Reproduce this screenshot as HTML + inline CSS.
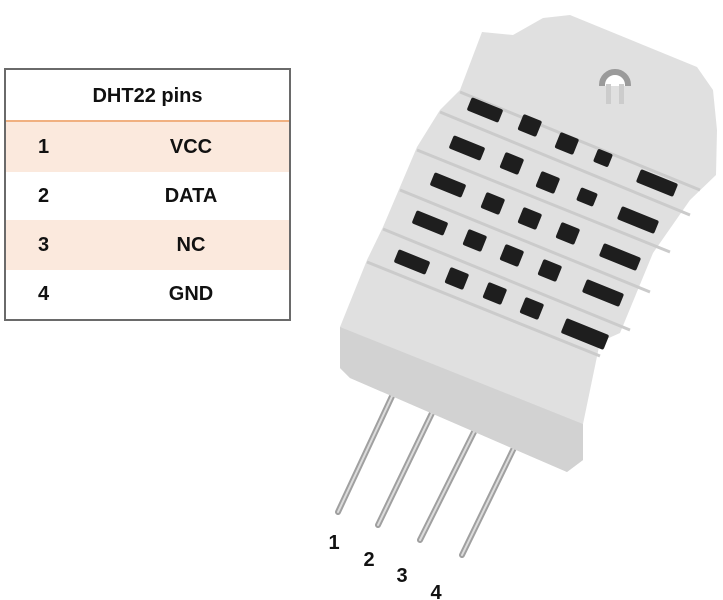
<!DOCTYPE html>
<html><head><meta charset="utf-8"><style>
body{margin:0;width:723px;height:600px;background:#fff;position:relative;overflow:hidden;font-family:"Liberation Sans",sans-serif}
.t{position:absolute;left:4px;top:68px;width:283px;height:249px;border:2px solid #6a6a6a;box-sizing:content-box}
.r{position:absolute;left:0;width:283px;font-weight:bold;font-size:20px;color:#111}
.n{position:absolute;left:32px}
.v{position:absolute;left:120px;width:130px;text-align:center}
</style></head><body>
<div class="t">
<div class="r" style="top:0;height:52px;line-height:52px;text-align:center;border-bottom:2px solid #f0b080;box-sizing:border-box">DHT22 pins</div>
<div class="r" style="top:52px;height:50px;line-height:50px;background:#fbe9dd"><span class="n">1</span><span class="v">VCC</span></div>
<div class="r" style="top:102px;height:48px;line-height:48px"><span class="n">2</span><span class="v">DATA</span></div>
<div class="r" style="top:150px;height:50px;line-height:50px;background:#fbe9dd"><span class="n">3</span><span class="v">NC</span></div>
<div class="r" style="top:200px;height:49px;line-height:49px"><span class="n">4</span><span class="v">GND</span></div>
</div>
<svg width="723" height="600" style="position:absolute;left:0;top:0">
<g stroke-linecap="round">
<line x1="408" y1="362" x2="338" y2="512" stroke="#a0a0a0" stroke-width="6"/>
<line x1="448" y1="380" x2="378" y2="525" stroke="#a0a0a0" stroke-width="6"/>
<line x1="490" y1="400" x2="420" y2="540" stroke="#a0a0a0" stroke-width="6"/>
<line x1="530" y1="415" x2="462" y2="555" stroke="#a0a0a0" stroke-width="6"/>
<line x1="408" y1="362" x2="338" y2="512" stroke="#dcdcdc" stroke-width="2"/>
<line x1="448" y1="380" x2="378" y2="525" stroke="#dcdcdc" stroke-width="2"/>
<line x1="490" y1="400" x2="420" y2="540" stroke="#dcdcdc" stroke-width="2"/>
<line x1="530" y1="415" x2="462" y2="555" stroke="#dcdcdc" stroke-width="2"/>
</g>
<polygon points="482,32 513,35 543,18 570,15 697,67 713,90 717,130 716,175 690,200 653,253 620,333 600,342 583,424 583,460 567,472 350,378 340,368 340,327 367,260 383,227 400,187 417,147 440,110 460,90" fill="#e0e0e0"/>
<polygon points="340,327 583,424 583,460 567,472 350,378 340,368" fill="#d2d2d2"/>
<g fill="none" stroke="#cbcbcb" stroke-width="3">
<path d="M460,92 L700,190"/><path d="M440,112 L690,215"/><path d="M417,150 L670,252"/><path d="M400,190 L650,292"/><path d="M383,229 L630,330"/><path d="M367,262 L600,356"/>
</g>
<circle cx="615" cy="85" r="13" fill="#fff" stroke="#9a9a9a" stroke-width="6"/>
<rect x="598" y="86" width="34" height="30" fill="#e0e0e0"/>
<rect x="606" y="84" width="5" height="20" fill="#ccc"/><rect x="619" y="84" width="5" height="20" fill="#ccc"/>
<g fill="#1e1e1e">
<rect x="-17" y="-7" width="34" height="14" rx="2" transform="translate(485,110) rotate(22)"/>
<rect x="-10" y="-8" width="20" height="17" rx="2" transform="translate(530,125) rotate(22)"/>
<rect x="-10" y="-8" width="20" height="17" rx="2" transform="translate(567,143) rotate(22)"/>
<rect x="-8" y="-7" width="16" height="14" rx="2" transform="translate(603,158) rotate(22)"/>
<rect x="-20" y="-7" width="40" height="14" rx="2" transform="translate(657,183) rotate(22)"/>
<rect x="-17" y="-7" width="34" height="14" rx="2" transform="translate(467,148) rotate(22)"/>
<rect x="-10" y="-8" width="20" height="17" rx="2" transform="translate(512,163) rotate(22)"/>
<rect x="-10" y="-8" width="20" height="17" rx="2" transform="translate(548,182) rotate(22)"/>
<rect x="-9" y="-7" width="18" height="14" rx="2" transform="translate(587,197) rotate(22)"/>
<rect x="-20" y="-7" width="40" height="14" rx="2" transform="translate(638,220) rotate(22)"/>
<rect x="-17" y="-7" width="34" height="14" rx="2" transform="translate(448,185) rotate(22)"/>
<rect x="-10" y="-8" width="20" height="17" rx="2" transform="translate(493,203) rotate(22)"/>
<rect x="-10" y="-8" width="20" height="17" rx="2" transform="translate(530,218) rotate(22)"/>
<rect x="-10" y="-8" width="20" height="17" rx="2" transform="translate(568,233) rotate(22)"/>
<rect x="-20" y="-7" width="40" height="14" rx="2" transform="translate(620,257) rotate(22)"/>
<rect x="-17" y="-7" width="34" height="14" rx="2" transform="translate(430,223) rotate(22)"/>
<rect x="-10" y="-8" width="20" height="17" rx="2" transform="translate(475,240) rotate(22)"/>
<rect x="-10" y="-8" width="20" height="17" rx="2" transform="translate(512,255) rotate(22)"/>
<rect x="-10" y="-8" width="20" height="17" rx="2" transform="translate(550,270) rotate(22)"/>
<rect x="-20" y="-7" width="40" height="14" rx="2" transform="translate(603,293) rotate(22)"/>
<rect x="-17" y="-7" width="34" height="14" rx="2" transform="translate(412,262) rotate(22)"/>
<rect x="-10" y="-8" width="20" height="17" rx="2" transform="translate(457,278) rotate(22)"/>
<rect x="-10" y="-8" width="20" height="17" rx="2" transform="translate(495,293) rotate(22)"/>
<rect x="-10" y="-8" width="20" height="17" rx="2" transform="translate(532,308) rotate(22)"/>
<rect x="-23" y="-8" width="46" height="16" rx="2" transform="translate(585,334) rotate(22)"/>
</g>
<g font-family="Liberation Sans" font-weight="bold" font-size="20" fill="#111" text-anchor="middle">
<text x="334" y="549">1</text><text x="369" y="566">2</text><text x="402" y="582">3</text><text x="436" y="599">4</text>
</g>
</svg>
</body></html>
